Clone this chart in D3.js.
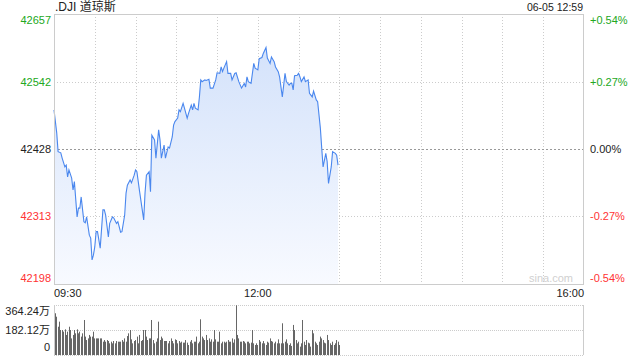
<!DOCTYPE html>
<html>
<head>
<meta charset="utf-8">
<script src="https://cdn.jsdelivr.net/npm/d3@7"></script>
<style>
  html, body { margin: 0; padding: 0; background: #fff; }
  svg { display: block; font-family: "Liberation Sans", Arial, "Noto Sans CJK SC", sans-serif; }
</style>
</head>
<body>
<div id="chart"></div>
<script>
const times = [
  "09:30","09:32","09:33","09:35","09:36","09:38","09:39","09:40","09:41","09:43",
  "09:44","09:45","09:47","09:48","09:49","09:50","09:52","09:53","09:54","09:56",
  "09:57","09:58","09:59","10:00","10:01","10:02","10:04","10:06","10:07","10:08",
  "10:10","10:11","10:13","10:14","10:16","10:17","10:19","10:20","10:22","10:23",
  "10:24","10:26","10:27","10:29","10:30","10:31","10:33","10:36","10:37","10:38",
  "10:40","10:41","10:42","10:44","10:45","10:47","10:48","10:49","10:51","10:52",
  "10:54","10:55","10:57","10:58","10:59","11:01","11:02","11:03","11:05","11:06",
  "11:08","11:09","11:11","11:12","11:13","11:14","11:16","11:17","11:18","11:19",
  "11:21","11:22","11:24","11:25","11:27","11:29","11:30","11:32","11:33","11:34",
  "11:35","11:37","11:38","11:40","11:41","11:43","11:44","11:46","11:48","11:50",
  "11:51","11:52","11:53","11:55","11:57","11:58","12:00","12:01","12:03","12:04",
  "12:06","12:07","12:09","12:10","12:12","12:13","12:15","12:16","12:18","12:19",
  "12:20","12:21","12:23","12:24","12:25","12:26","12:27","12:29","12:30","12:31",
  "12:32","12:34","12:35","12:37","12:38","12:40","12:41","12:43","12:44","12:46",
  "12:47","12:48","12:50","12:51","12:52","12:54","12:55","12:57","12:58","12:59"
];
const prices = [
  42494,42455,42423,42421,42412,42397,42400,42380,42392,42378,
  42358,42372,42312,42327,42327,42346,42304,42302,42312,42281,
  42276,42239,42247,42261,42287,42287,42259,42324,42324,42315,
  42278,42301,42312,42310,42301,42304,42286,42287,42315,42352,
  42366,42375,42370,42383,42392,42389,42355,42307,42353,42383,
  42389,42355,42451,42443,42412,42460,42443,42412,42434,42412,
  42431,42429,42448,42468,42474,42480,42494,42491,42505,42497,
  42480,42488,42502,42494,42505,42497,42494,42516,42545,42542,
  42545,42544,42546,42531,42531,42545,42557,42556,42567,42559,
  42565,42576,42556,42556,42545,42556,42557,42542,42531,42539,
  42533,42550,42542,42539,42573,42565,42562,42581,42583,42590,
  42600,42582,42573,42584,42576,42567,42559,42550,42516,42536,
  42556,42542,42536,42539,42539,42528,42552,42553,42556,42550,
  42542,42550,42542,42545,42522,42516,42526,42511,42508,42463,
  42429,42397,42420,42406,42369,42397,42423,42420,42417,42400
];
// one bar per minute from 09:30, in 万
const volumes = [
  304,279,206,243,182,182,170,187,146,170,206,182,121,146,182,158,187,158,170,134,
  158,255,134,109,121,146,134,134,170,121,121,121,121,121,121,97,109,97,109,102,
  85,97,85,102,85,102,97,97,97,109,97,121,97,138,158,182,114,85,102,109,
  134,85,146,102,109,182,182,134,109,121,121,255,109,85,97,121,243,109,134,121,
  102,102,102,85,102,121,102,85,114,109,85,102,90,97,90,90,109,90,73,97,
  109,85,97,97,134,85,97,260,134,121,109,146,109,121,97,114,97,182,114,97,
  97,170,85,97,97,90,97,109,97,97,121,90,114,362,146,121,97,97,102,97,
  85,97,97,85,90,182,85,73,85,73,109,97,85,102,85,73,97,90,121,102,
  97,85,97,85,114,85,85,231,85,97,114,85,73,85,66,219,182,109,85,97,
  61,85,255,97,73,109,90,85,61,182,158,97,85,73,97,134,121,109,90,85,
  146,109,85,73,97,73,85,109,97,73
];
const prevClose = 42428;
const priceTicks = [42198, 42313, 42428, 42542, 42657];
const pctLabels = ["-0.54%", "-0.27%", "0.00%", "+0.27%", "+0.54%"];
const volTicks = [0, 182.12, 364.24];
const volLabels = ["0", "182.12万", "364.24万"];
const timeLabels = ["09:30", "12:00", "16:00"];

const W = 640, H = 360;
const pLeft = 54, pRight = 584, pTop = 14, pBottom = 284;
const vTop = 305, vBottom = 355;
const green = "#22a822", red = "#f33", dark = "#222";

const parse = d3.timeParse("%H:%M");
const tOpen = parse("09:30"), tClose = parse("16:00");
const data = times.map((t, i) => ({ t: parse(t), p: prices[i] }));
const vdata = volumes.map((v, i) => ({ t: d3.timeMinute.offset(tOpen, i), v: v }));

const x = d3.scaleTime().domain([tOpen, tClose]).range([pLeft, pRight]);
const y = d3.scaleLinear().domain([priceTicks[0], priceTicks[4]]).range([pBottom, pTop]);
const yv = d3.scaleLinear().domain([0, volTicks[2]]).range([vBottom, vTop]);

const svg = d3.select("#chart").append("svg")
  .attr("width", W).attr("height", H);

const grad = svg.append("defs").append("linearGradient")
  .attr("id", "fill").attr("gradientUnits", "userSpaceOnUse")
  .attr("x1", 0).attr("y1", pTop).attr("x2", 0).attr("y2", pBottom);
grad.append("stop").attr("offset", 0).attr("stop-color", "#cfdffa");
grad.append("stop").attr("offset", 1).attr("stop-color", "#f8faff");

// grid - vertical every half hour
const halfHours = d3.timeMinute.every(30).range(d3.timeMinute.offset(tOpen, 30), tClose);
svg.append("g").selectAll("line").data(halfHours).join("line")
  .attr("x1", d => Math.round(x(d)) + 0.5).attr("x2", d => Math.round(x(d)) + 0.5)
  .attr("y1", pTop).attr("y2", pBottom)
  .attr("stroke", "#ccc").attr("stroke-dasharray", "1,2");

// grid - horizontal
svg.append("g").selectAll("line").data(priceTicks.slice(1, 4)).join("line")
  .attr("x1", pLeft).attr("x2", pRight)
  .attr("y1", d => Math.round(y(d)) + 0.5).attr("y2", d => Math.round(y(d)) + 0.5)
  .attr("stroke", d => d === prevClose ? "#999" : "#ccc")
  .attr("stroke-dasharray", d => d === prevClose ? "2,2" : "1,2");

// area + line
svg.append("path").datum(data)
  .attr("fill", "url(#fill)")
  .attr("d", d3.area().x(d => x(d.t)).y0(pBottom).y1(d => y(d.p)));
svg.append("path").datum(data)
  .attr("fill", "none").attr("stroke", "#4a87ee").attr("stroke-width", 1.1)
  .attr("d", d3.line().x(d => x(d.t)).y(d => y(d.p)));

// frame
svg.append("rect")
  .attr("x", pLeft + 0.5).attr("y", pTop + 0.5)
  .attr("width", pRight - pLeft - 1).attr("height", pBottom - pTop)
  .attr("fill", "none").attr("stroke", "#ccc");

// price labels
svg.append("g").selectAll("text").data(priceTicks).join("text")
  .attr("x", pLeft - 3)
  .attr("y", (d, i) => y(d) + (i === 4 ? 10 : i === 0 ? -2 : 4))
  .attr("text-anchor", "end").attr("font-size", 11)
  .attr("fill", d => d > prevClose ? green : d < prevClose ? red : dark)
  .text(d => d);
svg.append("g").selectAll("text").data(priceTicks).join("text")
  .attr("x", pRight + 6)
  .attr("y", (d, i) => y(d) + (i === 4 ? 10 : i === 0 ? -2 : 4))
  .attr("font-size", 11)
  .attr("fill", d => d > prevClose ? green : d < prevClose ? red : dark)
  .text((d, i) => pctLabels[i]);

// title + timestamp
svg.append("text").attr("x", pLeft + 1).attr("y", 11)
  .attr("font-size", 12).attr("fill", dark).text(".DJI 道琼斯");
svg.append("text").attr("x", pRight - 1).attr("y", 11)
  .attr("text-anchor", "end").attr("font-size", 10.5).attr("fill", dark).text("06-05 12:59");

// watermark
svg.append("text").attr("x", 573).attr("y", 282)
  .attr("text-anchor", "end").attr("font-size", 11).attr("fill", "#d0d0d0").text("sina.com");

// time labels
svg.append("g").selectAll("text").data(timeLabels).join("text")
  .attr("x", d => x(parse(d)))
  .attr("y", 297)
  .attr("text-anchor", (d, i) => i === 0 ? "start" : i === 2 ? "end" : "middle")
  .attr("font-size", 11).attr("fill", dark)
  .text(d => d);

// volume panel
svg.append("g").selectAll("line").data(volTicks).join("line")
  .attr("x1", pLeft).attr("x2", pRight)
  .attr("y1", d => Math.round(yv(d)) + 0.5).attr("y2", d => Math.round(yv(d)) + 0.5)
  .attr("stroke", "#ccc").attr("stroke-dasharray", "1,1");
svg.append("g").selectAll("line").data([pLeft, pRight - 1]).join("line")
  .attr("x1", d => d + 0.5).attr("x2", d => d + 0.5)
  .attr("y1", vTop).attr("y2", vBottom)
  .attr("stroke", "#ccc");
svg.append("g").selectAll("rect").data(vdata).join("rect")
  .attr("x", d => Math.round(x(d.t)) + 1)
  .attr("width", 1)
  .attr("y", d => yv(d.v))
  .attr("height", d => vBottom - yv(d.v))
  .attr("fill", "#666");
svg.append("g").selectAll("text").data(volTicks).join("text")
  .attr("x", pLeft - 4)
  .attr("y", (d, i) => yv(d) + (i === 2 ? 10 : i === 0 ? -4 : 4))
  .attr("text-anchor", "end").attr("font-size", 11).attr("fill", dark)
  .text((d, i) => volLabels[i]);
</script>
</body>
</html>
